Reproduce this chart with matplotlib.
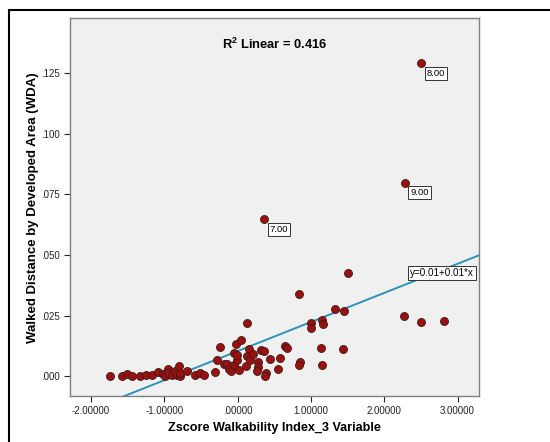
import matplotlib
matplotlib.use("Agg")
import matplotlib.pyplot as plt
import numpy as np
from matplotlib.patches import Rectangle
from matplotlib.ticker import FuncFormatter

plt.rcParams["font.family"] = ["Liberation Sans", "DejaVu Sans"]
plt.rcParams["mathtext.fontset"] = "custom"
plt.rcParams["mathtext.rm"] = "Liberation Sans"
plt.rcParams["mathtext.bf"] = "Liberation Sans:bold"

# Zscore walkability index (x) and walked distance by developed area (y)
zscore = [
    -1.745, -1.58, -1.51, -1.435, -1.33, -1.255, -1.165, -1.09, -1.02, -0.99,
    -0.95, -0.945, -0.895, -0.857, -0.83, -0.795, -0.78, -0.78, -0.695, -0.585,
    -0.51, -0.456, -0.306, -0.279, -0.246, -0.18, -0.15, -0.123, -0.085, -0.046,
    -0.055, -0.019, -0.010, -0.005, 0.013, 0.045, 0.109, 0.123, 0.127, 0.154,
    0.164, 0.213, 0.273, 0.273, 0.26, 0.314, 0.355, 0.363, 0.387, 0.378,
    0.441, 0.546, 0.578, 0.642, 0.673, 0.833, 0.851, 0.837, 1.001, 0.995,
    1.15, 1.161, 1.142, 1.155, 1.325, 1.448, 1.439, 1.507, 2.268, 2.281,
    2.507, 2.508, 2.814,
]
wda = [
    0.0000, 0.0000, 0.0011, 0.0000, 0.0000, 0.0004, 0.0005, 0.0017, 0.0008, 0.0001,
    0.0031, 0.0015, 0.0004, 0.0020, 0.0006, 0.0044, 0.0000, 0.0014, 0.0020, 0.0006,
    0.0014, 0.0005, 0.0018, 0.0067, 0.0121, 0.0050, 0.0049, 0.0029, 0.0022, 0.0047,
    0.0096, 0.0135, 0.0066, 0.0089, 0.0025, 0.0150, 0.0042, 0.0219, 0.0085, 0.0114,
    0.0067, 0.0091, 0.0060, 0.0040, 0.0021, 0.0107, 0.0106, 0.0648, 0.0015, 0.0002,
    0.0071, 0.0029, 0.0074, 0.0127, 0.0118, 0.0338, 0.0059, 0.0048, 0.0221, 0.0199,
    0.0234, 0.0216, 0.0117, 0.0045, 0.0279, 0.0269, 0.0113, 0.0425, 0.0248, 0.0799,
    0.1292, 0.0225, 0.0229,
]

# labelled outliers
outlier_x = [2.507, 2.281, 0.363]
outlier_y = [0.1292, 0.0799, 0.0648]
outlier_labels = ["8.00", "9.00", "7.00"]

# linear fit
fit_intercept = 0.0104
fit_slope = 0.0120
r_squared = 0.416
fit_label = "y=0.01+0.01*x"

x_ticks = [-2, -1, 0, 1, 2, 3]
y_ticks = [0.0, 0.025, 0.05, 0.075, 0.1, 0.125]


def _strip_zero(fmt):
    def f(v, _pos):
        s = fmt % v
        if s.startswith("0."):
            s = s[1:]
        elif s.startswith("-0."):
            s = "-" + s[2:]
        return s
    return f


fig = plt.figure(figsize=(5.5, 4.42), dpi=100)
ax = fig.add_axes([0.1273, 0.1045, 0.7436, 0.8559])
ax.set_facecolor("#f0f0f0")

ax.set_xlim(-2.287, 3.293)
ax.set_ylim(-0.00804, 0.148)

xs = np.array(ax.get_xlim())
ax.plot(xs, fit_intercept + fit_slope * xs, color="#2c93b8", linewidth=1.4, zorder=2)

ax.scatter(zscore, wda, s=33, color="#9c1010", edgecolor="#3a1a1a", linewidth=0.6, zorder=3)

for x, y, lab in zip(outlier_x, outlier_y, outlier_labels):
    ax.annotate(lab, (x, y), xytext=(4, -4), textcoords="offset points",
                ha="left", va="top", fontsize=6.8,
                bbox=dict(boxstyle="square,pad=0.2", fc="white", ec="#333333", lw=0.7))

ax.text(442 / 550, 1 - 273 / 442, fit_label, transform=fig.transFigure,
        ha="center", va="center", fontsize=7.1,
        bbox=dict(boxstyle="square,pad=0.25", fc="white", ec="#333333", lw=0.7))

ax.text(274.5 / 550, 1 - 44 / 442, r"R$^\mathbf{2}$ Linear = " + f"{r_squared:.3f}", transform=fig.transFigure,
        ha="center", va="center", fontsize=9.3, fontweight="bold")

ax.set_xticks(x_ticks)
ax.set_yticks(y_ticks)
ax.xaxis.set_major_formatter(FuncFormatter(_strip_zero("%.5f")))
ax.yaxis.set_major_formatter(FuncFormatter(_strip_zero("%.3f")))
ax.tick_params(direction="out", length=4, width=0.8, labelsize=7, colors="#222222")

for side in ["top", "right", "left", "bottom"]:
    ax.spines[side].set_color("#808080")
    ax.spines[side].set_linewidth(1.0)

fig.text(274.7 / 550, 1 - 428 / 442, "Zscore Walkability Index_3 Variable",
         ha="center", va="center", fontsize=9.1, fontweight="bold")
fig.text(33 / 550, 1 - 207.5 / 442, "Walked Distance by Developed Area (WDA)",
         ha="center", va="center", rotation=90, fontsize=9.5, fontweight="bold")

fig.patches.append(Rectangle((8.5 / 550, -0.1), 1.2, 1.1 - 10.5 / 442,
                             transform=fig.transFigure, fill=False,
                             edgecolor="black", linewidth=1.5))

fig.savefig("out.png", dpi=100)
